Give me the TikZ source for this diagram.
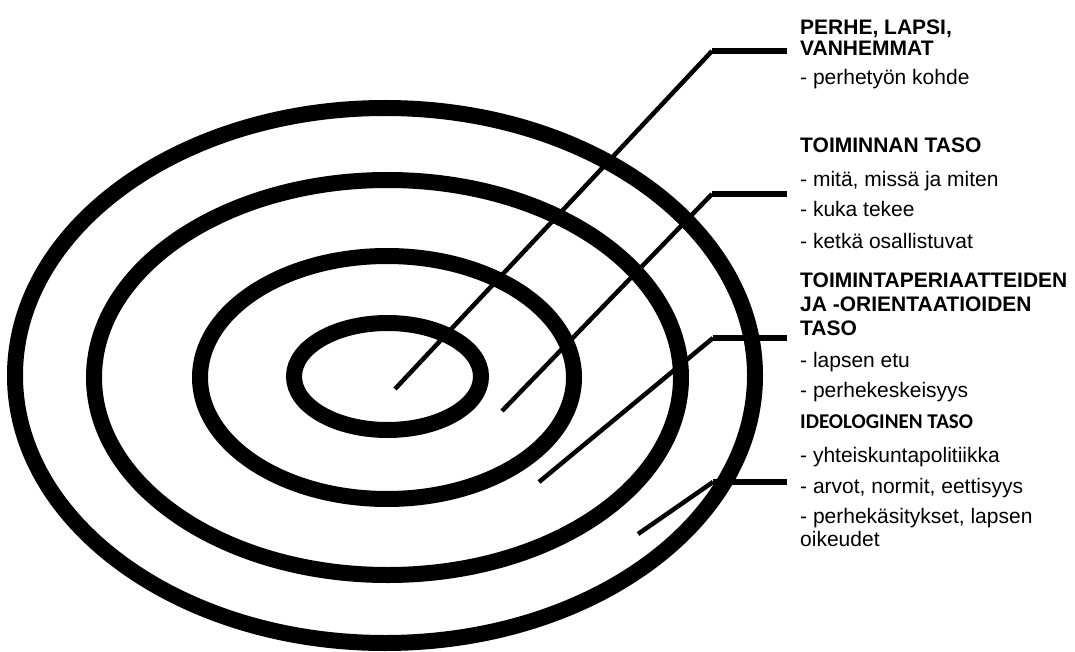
\documentclass[tikz,border=0pt]{standalone}
\usepackage{fontspec}
\setmainfont{Liberation Sans}
\newfontfamily\carlitofont{Carlito}
\begin{document}
\begin{tikzpicture}[x=1pt,y=-1pt,
  ring/.style={line width=16pt},
  leader/.style={line width=4.5pt},
  leaderh/.style={line width=6pt},
  txt/.style={inner sep=0pt, anchor=base west, font=\fontsize{21}{22}\selectfont},
  head/.style={txt, font=\fontsize{21}{22}\selectfont\bfseries},
  head2/.style={txt, font=\fontsize{21}{22}\selectfont\carlitofont\bfseries}]
\useasboundingbox (0,0) rectangle (1075,652);
% rings
\draw[ring] (387.5,376.5) ellipse [x radius=93.5pt, y radius=53.5pt];
\draw[ring] (387,377.5) ellipse [x radius=187pt, y radius=121.5pt];
\draw[ring] (387.5,377.5) ellipse [x radius=293.5pt, y radius=197.5pt];
\draw[ring] (385,375.5) ellipse [x radius=370pt, y radius=267.5pt];
% leader points
\coordinate (s1) at (395,389);  \coordinate (k1) at (712,51);  \coordinate (e1) at (787,51);
\coordinate (s2) at (502,411);  \coordinate (k2) at (712,194); \coordinate (e2) at (787,194);
\coordinate (s3) at (539,482);  \coordinate (k3) at (713,338); \coordinate (e3) at (787,338);
\coordinate (s4) at (638,534);  \coordinate (k4) at (713,482); \coordinate (e4) at (787,482);
\draw[leader] (s1) -- (k1);  \draw[leaderh] (k1) -- (e1);
\draw[leader] (s2) -- (k2);  \draw[leaderh] (k2) -- (e2);
\draw[leader] (s3) -- (k3);  \draw[leaderh] (k3) -- (e3);
\draw[leader] (s4) -- (k4);  \draw[leaderh] (k4) -- (e4);
% texts
\node[head] (t1a) at (800,35) {PERHE, LAPSI,};
\node[head] (t1b) at (800,56) {VANHEMMAT};
\node[txt]  (t1c) at (800,85) {- perhetyön kohde};
\node[head] (t2a) at (800,153) {TOIMINNAN TASO};
\node[txt]  (t2b) at (800,187) {- mitä, missä ja miten};
\node[txt]  (t2c) at (800,217) {- kuka tekee};
\node[txt]  (t2d) at (800,248) {- ketkä osallistuvat};
\node[head] (t3a) at (800,287) {TOIMINTAPERIAATTEIDEN};
\node[head] (t3b) at (800,311) {JA -ORIENTAATIOIDEN};
\node[head] (t3c) at (800,335) {TASO};
\node[txt]  (t3d) at (800,367) {- lapsen etu};
\node[txt]  (t3e) at (800,397) {- perhekeskeisyys};
\node[head2] (t4a) at (800,428) {IDEOLOGINEN TASO};
\node[txt]  (t4b) at (800,462) {- yhteiskuntapolitiikka};
\node[txt]  (t4c) at (800,493) {- arvot, normit, eettisyys};
\node[txt]  (t4d) at (800,523) {- perhekäsitykset, lapsen};
\node[txt]  (t4e) at (800,546) {oikeudet};
\end{tikzpicture}
\end{document}
